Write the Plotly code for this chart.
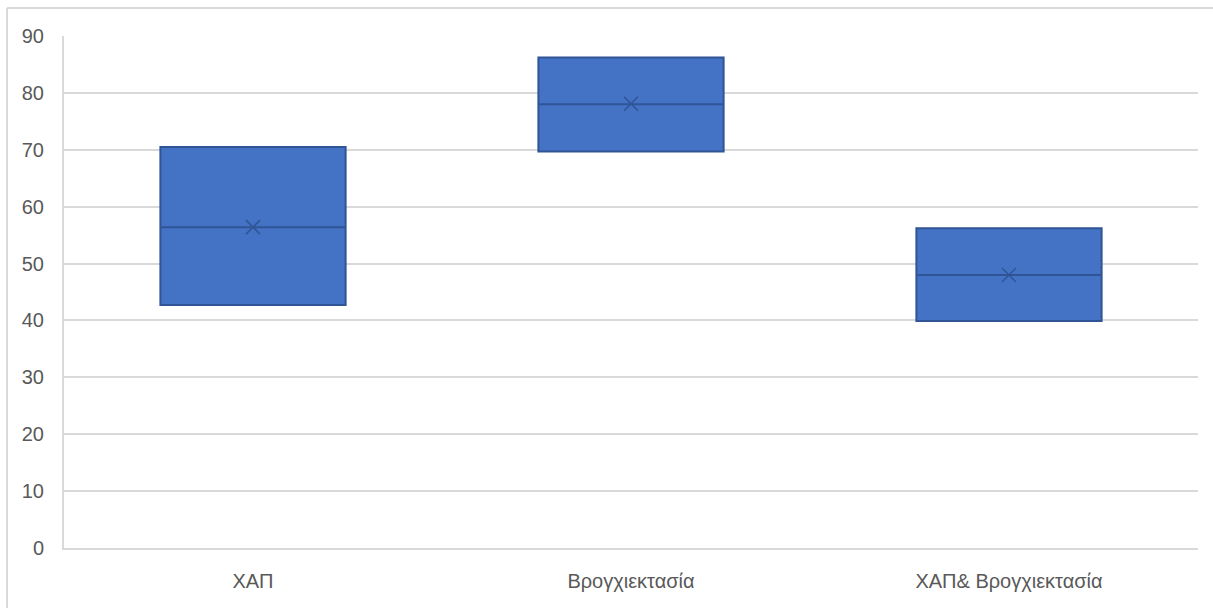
import plotly.graph_objects as go

categories = ["ΧΑΠ", "Βρογχιεκτασία", "ΧΑΠ& Βρογχιεκτασία"]
q1_vals = [42.7, 69.7, 39.9]
median_vals = [56.4, 78.0, 48.0]
q3_vals = [70.5, 86.2, 56.2]
mean_vals = [56.4, 78.1, 48.0]
y_ticks = [0, 10, 20, 30, 40, 50, 60, 70, 80, 90]

fill = "#4472C4"
edge = "#2F5597"
grey_text = "#595959"
grid = "#D9D9D9"

fig = go.Figure()
fig.add_trace(go.Box(
    x=categories,
    q1=q1_vals,
    median=median_vals,
    q3=q3_vals,
    lowerfence=q1_vals,
    upperfence=q3_vals,
    fillcolor=fill,
    line=dict(color=edge, width=2),
    width=0.49,
    whiskerwidth=0,
    showlegend=False,
    hoverinfo="skip",
))
fig.add_trace(go.Scatter(
    x=categories,
    y=mean_vals,
    mode="markers",
    marker=dict(symbol="x-thin-open", size=14, color=edge, line=dict(color=edge, width=1.5)),
    showlegend=False,
    hoverinfo="skip",
))

L, R, T, B = 64, 15, 36, 60
W, H = 1213, 608
pw, ph = W - L - R, H - T - B
bx = (7 - L) / pw
by = (H - B - 8) / ph
fig.add_shape(type="line", xref="paper", yref="paper", x0=bx, x1=bx, y0=-B / ph - 0.01, y1=by,
              line=dict(color=grid, width=2))
fig.add_shape(type="line", xref="paper", yref="paper", x0=bx, x1=1 + R / pw + 0.01, y0=by, y1=by,
              line=dict(color=grid, width=2))

fig.update_layout(
    width=W, height=H,
    margin=dict(l=L, r=R, t=T, b=B),
    paper_bgcolor="white",
    plot_bgcolor="white",
    font=dict(family="Liberation Sans, Arial, sans-serif", size=20, color=grey_text),
    xaxis=dict(
        type="category",
        range=[-0.5, 2.5],
        showgrid=False,
        showline=True, linecolor=grid, linewidth=2,
        ticks="", ticklabelstandoff=14,
        mirror=False,
        zeroline=False,
    ),
    yaxis=dict(
        range=[0, 90],
        tickvals=y_ticks,
        showgrid=True, gridcolor=grid, gridwidth=2,
        showline=True, linecolor=grid, linewidth=2,
        ticks="", ticklabelstandoff=14,
        zeroline=False,
    ),
)

fig.write_html("out.html")
